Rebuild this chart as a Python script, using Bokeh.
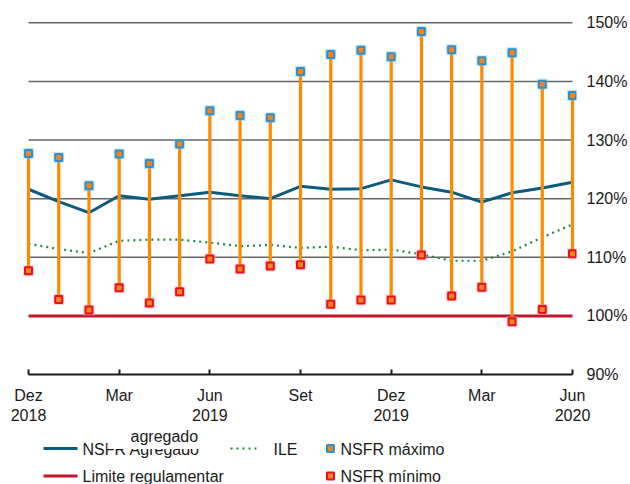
from bokeh.plotting import figure
from bokeh.models import Range1d, FixedTicker
from bokeh.layouts import column
from bokeh.embed import file_html
from bokeh.resources import INLINE
from bokeh.core.properties import value

# Monthly observations, Dez 2018 .. Jun 2020
months = ["Dez 2018", "Jan 2019", "Fev 2019", "Mar 2019", "Abr 2019", "Mai 2019",
          "Jun 2019", "Jul 2019", "Ago 2019", "Set 2019", "Out 2019", "Nov 2019",
          "Dez 2019", "Jan 2020", "Fev 2020", "Mar 2020", "Abr 2020", "Mai 2020",
          "Jun 2020"]
nsfr_agregado = [121.6, 119.5, 117.6, 120.5, 119.9, 120.5, 121.1, 120.5, 120.0, 122.1,
                 121.6, 121.7, 123.2, 122.0, 121.1, 119.4, 121.0, 121.8, 122.8]
ile = [112.3, 111.4, 110.7, 112.8, 113.0, 113.0, 112.5, 111.9, 112.1, 111.6,
       111.8, 111.2, 111.3, 110.5, 109.4, 109.4, 111.0, 113.4, 115.6]
nsfr_maximo = [127.7, 127.0, 122.2, 127.6, 126.0, 129.3, 135.0, 134.2, 133.8, 141.7,
               144.6, 145.3, 144.2, 148.5, 145.4, 143.5, 144.9, 139.5, 137.6]
nsfr_minimo = [107.7, 102.8, 101.0, 104.8, 102.2, 104.1, 109.7, 108.0, 108.5, 108.7,
               102.0, 102.7, 102.7, 110.4, 103.4, 104.9, 99.0, 101.1, 110.6]
limite_regulamentar = [100.0] * len(months)

x_tick_positions = [0, 3, 6, 9, 12, 15, 18]
x_tick_labels = ["Dez\n2018", "Mar", "Jun\n2019", "Set", "Dez\n2019", "Mar", "Jun\n2020"]
y_ticks = [90, 100, 110, 120, 130, 140, 150]
y_grid = [110, 120, 130, 140, 150]

FONT = "Liberation Sans"
TXT = "#1a1a1a"
BLUE = "#0b5b80"
GREEN = "#1f8a3c"
ORANGE = "#ff8a00"
RED_LIM = "#c0172c"

LEFT, RIGHT = 20, 54   # borders shared by both panels

idx = list(range(len(months)))

p = figure(width=630, height=426,
           x_range=Range1d(-0.265, 18.132), y_range=Range1d(90, 152.09),
           y_axis_location="right", toolbar_location=None, output_backend="svg",
           min_border_left=LEFT, min_border_right=RIGHT, min_border_top=10,
           min_border_bottom=50, outline_line_color=None)
p.xgrid.visible = False
p.ygrid.visible = False

xa = p.xaxis[0]
xa.ticker = FixedTicker(ticks=x_tick_positions)
xa.major_label_overrides = dict(zip(x_tick_positions, x_tick_labels))
xa.bounds = (0, 18)
xa.axis_line_width = 2
xa.axis_line_color = TXT
xa.major_tick_in = 5
xa.major_tick_out = 0
xa.major_tick_line_width = 2
xa.major_tick_line_color = TXT
xa.minor_tick_line_color = None
xa.major_label_standoff = 12
xa.major_label_text_font = FONT
xa.major_label_text_font_size = "16px"
xa.major_label_text_color = TXT

ya = p.yaxis[0]
ya.ticker = FixedTicker(ticks=y_ticks)
ya.major_label_overrides = {v: f"{v}%" for v in y_ticks}
ya.axis_line_color = None
ya.major_tick_line_color = None
ya.minor_tick_line_color = None
ya.major_tick_in = 0
ya.major_tick_out = 0
ya.major_label_standoff = 10
ya.major_label_text_font = FONT
ya.major_label_text_font_size = "16px"
ya.major_label_text_color = TXT

# horizontal reference lines, spanning the observed months only
p.segment(x0=[idx[0]] * len(y_grid), x1=[idx[-1]] * len(y_grid),
          y0=y_grid, y1=y_grid, line_color="#666666", line_width=1.5)

# regulatory minimum
p.line(idx, limite_regulamentar, line_color=RED_LIM, line_width=3)

# aggregate series
p.line(idx, nsfr_agregado, line_color=BLUE, line_width=3)
p.line(idx, ile, line_color=GREEN, line_width=2.2, line_dash="2 4")

# min-max range per month
p.segment(x0=idx, x1=idx, y0=nsfr_minimo, y1=nsfr_maximo,
          line_color=ORANGE, line_width=3.2)

# end markers with a soft halo
p.scatter(idx, nsfr_maximo, marker="square", size=11, fill_color="#7cc4ee",
          fill_alpha=0.45, line_color=None)
p.scatter(idx, nsfr_maximo, marker="square", size=7, fill_color="#f5841f",
          line_color="#2f8fcb", line_width=2)
p.scatter(idx, nsfr_minimo, marker="square", size=11, fill_color="#f59aa6",
          fill_alpha=0.45, line_color=None)
p.scatter(idx, nsfr_minimo, marker="square", size=7, fill_color="#f5841f",
          line_color="#e8101e", line_width=2)

# legend panel (pixel coordinates, y growing downward)
lg = figure(width=630, height=58, x_range=Range1d(LEFT, 630 - RIGHT),
            y_range=Range1d(58, 0),
            toolbar_location=None, output_backend="svg",
            min_border_left=LEFT, min_border_right=RIGHT,
            min_border_top=0, min_border_bottom=0,
            x_axis_location=None, y_axis_location=None, outline_line_color=None)
lg.xgrid.visible = False
lg.ygrid.visible = False

r1, r2 = 22, 49.5
lg.line([43, 77], [r1, r1], line_color=BLUE, line_width=3)
lg.text(x=[82], y=[r1 + 1], text=["NSFR Agregado"], text_baseline="middle",
        text_font=value(FONT), text_font_size="16px", text_color=TXT)
lg.quad(left=[107], right=[201], top=[1], bottom=[22.5], fill_color="white",
        line_color=None)
lg.text(x=[130], y=[10], text=["agregado"], text_baseline="middle",
        text_font=value(FONT), text_font_size="16px", text_color=TXT)

lg.line([230, 260], [r1, r1], line_color=GREEN, line_width=2.2, line_dash="2 4")
lg.text(x=[273], y=[r1 + 1], text=["ILE"], text_baseline="middle",
        text_font=value(FONT), text_font_size="16px", text_color=TXT)

lg.scatter([330], [r1], marker="square", size=7, fill_color="#f5841f",
           line_color="#2f8fcb", line_width=2)
lg.text(x=[340], y=[r1 + 1], text=["NSFR máximo"], text_baseline="middle",
        text_font=value(FONT), text_font_size="16px", text_color=TXT)

lg.line([43, 77], [r2, r2], line_color=RED_LIM, line_width=3)
lg.text(x=[82], y=[r2], text=["Limite regulamentar"], text_baseline="middle",
        text_font=value(FONT), text_font_size="16px", text_color=TXT)

lg.scatter([330], [r2], marker="square", size=7, fill_color="#f5841f",
           line_color="#e8101e", line_width=2)
lg.text(x=[340], y=[r2], text=["NSFR mínimo"], text_baseline="middle",
        text_font=value(FONT), text_font_size="16px", text_color=TXT)

layout = column(p, lg, spacing=0)
open("out.html", "w").write(file_html(layout, INLINE))
